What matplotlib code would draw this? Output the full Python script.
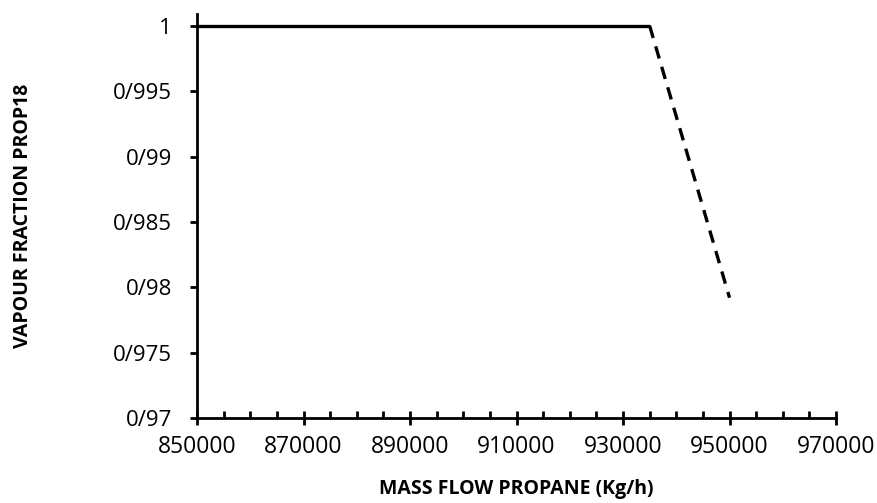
import matplotlib.pyplot as plt
from matplotlib.ticker import MultipleLocator, FixedLocator, FixedFormatter

plt.rcParams['font.family'] = ['Open Sans', 'DejaVu Sans']

# data
flow_solid = [850000, 935000]
vf_solid = [1.0, 1.0]
flow_dash = [935000, 950000]
vf_dash = [1.0, 0.9792]

x_ticks = [850000, 870000, 890000, 910000, 930000, 950000, 970000]
y_ticks = [0.97, 0.975, 0.98, 0.985, 0.99, 0.995, 1.0]
y_labels = ['0/97', '0/975', '0/98', '0/985', '0/99', '0/995', '1']

fig = plt.figure(figsize=(8.78, 5.03), dpi=100)
ax = fig.add_axes([0.2244, 0.169, 0.7278, 0.803])

ax.plot(flow_solid, vf_solid, color='black', lw=2.4, solid_capstyle='butt')
ax.plot(flow_dash, vf_dash, color='black', lw=2.4, linestyle=(0, (3.8, 2.6)))

ax.set_xlim(850000, 970000)
ax.set_ylim(0.97, 1.0009)
ax.xaxis.set_major_locator(FixedLocator(x_ticks))
ax.xaxis.set_minor_locator(MultipleLocator(5000))
ax.yaxis.set_major_locator(FixedLocator(y_ticks))
ax.yaxis.set_major_formatter(FixedFormatter(y_labels))

for s in ['top', 'right']:
    ax.spines[s].set_visible(False)
for s in ['left', 'bottom']:
    ax.spines[s].set_linewidth(2)

ax.tick_params(axis='x', which='major', direction='inout', length=10, width=2, labelsize=16.5, pad=7)
ax.tick_params(axis='x', which='minor', direction='in', length=5, width=2)
ax.tick_params(axis='y', which='major', direction='out', length=5, width=2, labelsize=16, pad=13)

ax.set_xlabel('MASS FLOW PROPANE (Kg/h)', fontsize=14, fontweight='bold')
ax.set_ylabel('VAPOUR FRACTION PROP18', fontsize=14, fontweight='bold')
ax.xaxis.set_label_coords(0.5, -0.152)
ax.yaxis.set_label_coords(-0.257, 0.5)

fig.savefig('out.png', dpi=100)
